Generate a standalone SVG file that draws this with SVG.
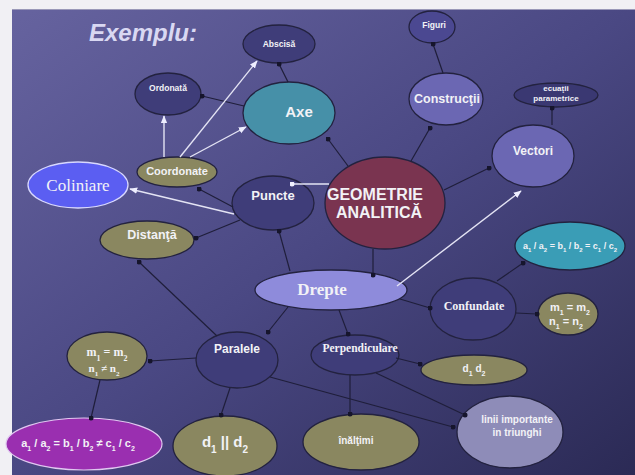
<svg xmlns="http://www.w3.org/2000/svg" width="635" height="475" viewBox="0 0 635 475">
<defs>
<linearGradient id="bg" x1="0" y1="0" x2="1" y2="1">
<stop offset="0" stop-color="#66639f"/>
<stop offset="0.5" stop-color="#4a4883"/>
<stop offset="1" stop-color="#2b2a55"/>
</linearGradient>
<marker id="dot" viewBox="0 0 6 6" refX="3" refY="3" markerWidth="5" markerHeight="5" markerUnits="userSpaceOnUse">
<circle cx="3" cy="3" r="3" fill="#16152c"/>
</marker>
<marker id="wdot" viewBox="0 0 6 6" refX="3" refY="3" markerWidth="5" markerHeight="5" markerUnits="userSpaceOnUse">
<circle cx="3" cy="3" r="3" fill="#f0f0ff"/>
</marker>
<marker id="warr" viewBox="0 0 10 10" refX="9" refY="5" markerWidth="8" markerHeight="8" orient="auto" markerUnits="userSpaceOnUse">
<path d="M0,1 L10,5 L0,9 z" fill="#eeeeff"/>
</marker>
</defs>
<style>
.dk{stroke:#1f1e3a;stroke-width:1.2;fill:none;marker-end:url(#dot)}
.wh{stroke:#e4e4f4;stroke-width:1.4;fill:none;marker-end:url(#warr)}
.n{stroke:#23223f;stroke-width:1.3}
.t{font-family:"Liberation Sans",Arial,sans-serif;font-weight:bold;fill:#f2f2f6;text-anchor:middle}
.s{font-family:"Liberation Serif","Times New Roman",serif;font-weight:bold;fill:#f2f2f6;text-anchor:middle}
.dark{fill:#3f3d79}
.olive{fill:#8a8760}
.lav{fill:#6b67b3}
</style>
<rect x="0" y="0" width="635" height="475" fill="#f1f0f4"/>
<rect x="12" y="9" width="623" height="466" fill="url(#bg)"/>
<line x1="12" y1="9.5" x2="635" y2="9.5" stroke="#9a98b8" stroke-width="1"/>
<text x="143" y="41" font-family="Liberation Sans,Arial,sans-serif" font-size="24" font-weight="bold" font-style="italic" fill="#d9d8f2" text-anchor="middle">Exemplu:</text>

<g id="abscisa"><ellipse class="n dark" cx="279" cy="44" rx="36" ry="19"/><text class="t" x="279" y="47" font-size="8.5">Abscisă</text></g>
<g id="ordonata"><ellipse class="n dark" cx="168" cy="94" rx="33" ry="21"/><text class="t" x="168" y="91" font-size="8.5">Ordonată</text></g>
<g id="axe"><ellipse class="n" fill="#4690a8" cx="289" cy="113" rx="46" ry="31"/><text class="t" x="299" y="117" font-size="15">Axe</text></g>
<g id="figuri"><ellipse class="n" fill="#4b4891" cx="432" cy="27" rx="23" ry="16"/><text class="t" x="434" y="28" font-size="8.5">Figuri</text></g>
<g id="constructii"><ellipse class="n lav" cx="446" cy="99" rx="37" ry="26"/><text class="t" x="447" y="103" font-size="12.5">Construcţii</text></g>
<g id="ecuatii"><ellipse class="n" fill="#3a3872" cx="556" cy="95" rx="42" ry="12"/><text class="t" x="556" y="91" font-size="8">ecuaţii</text><text class="t" x="556" y="101" font-size="8">parametrice</text></g>
<g id="coordonate"><ellipse class="n olive" cx="177" cy="172" rx="40" ry="15"/><text class="t" x="177" y="175" font-size="11">Coordonate</text></g>
<g id="coliniare"><ellipse fill="#5b5ef2" stroke="#d8d8ff" stroke-width="1.3" cx="78" cy="185" rx="50" ry="23"/><text x="78" y="191" font-family="Liberation Serif,'Times New Roman',serif" font-size="17" fill="#f2f2f6" text-anchor="middle">Coliniare</text></g>
<g id="puncte"><ellipse class="n dark" cx="273" cy="203" rx="41" ry="27"/><text class="t" x="273" y="200" font-size="13">Puncte</text></g>
<g id="geometrie"><ellipse class="n" fill="#7a3450" cx="385" cy="203" rx="60" ry="46"/><text class="t" x="375" y="200" font-size="16">GEOMETRIE</text><text class="t" x="379" y="218" font-size="16">ANALITICĂ</text></g>
<g id="vectori"><ellipse class="n lav" cx="533" cy="156" rx="41" ry="31"/><text class="t" x="533" y="155" font-size="12">Vectori</text></g>
<g id="distanta"><ellipse class="n olive" cx="147" cy="240" rx="47" ry="19"/><text class="t" x="152" y="239" font-size="12.5">Distanţă</text></g>
<g id="drepte"><ellipse class="n" fill="#8e8bdb" cx="331" cy="290" rx="76" ry="20"/><text class="s" x="322" y="295" font-size="17">Drepte</text></g>
<g id="prop-confundate"><ellipse class="n" fill="#3a9db6" cx="570" cy="246" rx="55" ry="24"/><text class="t" x="570" y="249" font-size="9">a<tspan font-size="6" baseline-shift="sub">1</tspan> / a<tspan font-size="6" baseline-shift="sub">2</tspan> = b<tspan font-size="6" baseline-shift="sub">1</tspan> / b<tspan font-size="6" baseline-shift="sub">2</tspan> = c<tspan font-size="6" baseline-shift="sub">1</tspan> / c<tspan font-size="6" baseline-shift="sub">2</tspan></text></g>
<g id="confundate"><ellipse class="n dark" cx="473" cy="309" rx="43" ry="31"/><text class="s" x="474" y="310" font-size="12">Confundate</text></g>
<g id="m-confundate"><ellipse class="n olive" cx="568" cy="314" rx="30" ry="21"/><text class="t" x="570" y="311" font-size="11">m<tspan font-size="7" baseline-shift="sub">1</tspan> = m<tspan font-size="7" baseline-shift="sub">2</tspan></text><text class="t" x="566" y="325" font-size="11">n<tspan font-size="7" baseline-shift="sub">1</tspan> = n<tspan font-size="7" baseline-shift="sub">2</tspan></text></g>
<g id="paralele"><ellipse class="n dark" cx="237" cy="360" rx="41" ry="28"/><text class="t" x="237" y="353" font-size="12">Paralele</text></g>
<g id="perpendiculare"><ellipse class="n dark" cx="355" cy="355" rx="44" ry="20"/><text class="s" x="360" y="352" font-size="11.5">Perpendiculare</text></g>
<g id="d-perp"><ellipse class="n olive" cx="474" cy="370" rx="53" ry="15"/><text class="t" x="474" y="372" font-size="10">d<tspan font-size="7" baseline-shift="sub">1</tspan>  d<tspan font-size="7" baseline-shift="sub">2</tspan></text></g>
<g id="m-paralele"><ellipse class="n olive" cx="107" cy="356" rx="40" ry="24"/><text class="s" x="107" y="356" font-size="12">m<tspan font-size="8" baseline-shift="sub">1</tspan> = m<tspan font-size="8" baseline-shift="sub">2</tspan></text><text class="s" x="104" y="372" font-size="11">n<tspan font-size="7" baseline-shift="sub">1</tspan> ≠ n<tspan font-size="7" baseline-shift="sub">2</tspan></text></g>
<g id="prop-paralele"><ellipse fill="#9a2fb0" stroke="#e0c8f0" stroke-width="1.2" cx="84" cy="444" rx="78" ry="26"/><text class="t" x="78" y="447" font-size="11">a<tspan font-size="7" baseline-shift="sub">1</tspan> / a<tspan font-size="7" baseline-shift="sub">2</tspan> = b<tspan font-size="7" baseline-shift="sub">1</tspan> / b<tspan font-size="7" baseline-shift="sub">2</tspan> ≠ c<tspan font-size="7" baseline-shift="sub">1</tspan> / c<tspan font-size="7" baseline-shift="sub">2</tspan></text></g>
<g id="d-paralele"><ellipse class="n olive" cx="225" cy="446" rx="52" ry="30"/><text class="t" x="225" y="447" font-size="15">d<tspan font-size="10" baseline-shift="sub">1</tspan> || d<tspan font-size="10" baseline-shift="sub">2</tspan></text></g>
<g id="inaltimi"><ellipse class="n olive" cx="361" cy="442" rx="58" ry="28"/><text class="t" x="356" y="444" font-size="10">înălţimi</text></g>
<g id="linii"><ellipse class="n" fill="#8e8cb8" cx="510" cy="432" rx="53" ry="36"/><text class="t" x="517" y="423" font-size="10">linii importante</text><text class="t" x="517" y="436" font-size="10">in triunghi</text></g>

<g id="connectors">
<line class="dk" x1="288" y1="82" x2="279" y2="64"/>
<line class="dk" x1="244" y1="106" x2="202" y2="96"/>
<line class="wh" x1="164" y1="157" x2="164" y2="116"/>
<line class="wh" x1="180" y1="157" x2="257" y2="61"/>
<line class="wh" x1="190" y1="157" x2="246" y2="127"/>
<line class="dk" x1="233" y1="207" x2="199" y2="189"/>
<line class="wh" x1="234" y1="214" x2="130" y2="189"/>
<line class="dk" x1="240" y1="220" x2="196" y2="238"/>
<line x1="329" y1="184" x2="292" y2="184" stroke="#e4e4f4" stroke-width="1.4" marker-end="url(#wdot)"/>
<line class="dk" x1="348" y1="166" x2="328" y2="139"/>
<line class="dk" x1="411" y1="161" x2="430" y2="128"/>
<line class="dk" x1="443" y1="73" x2="433" y2="44"/>
<line class="dk" x1="444" y1="190" x2="489" y2="168"/>
<line class="dk" x1="552" y1="125" x2="552" y2="108"/>
<line class="dk" x1="373" y1="249" x2="373" y2="275"/>
<line class="dk" x1="290" y1="271" x2="279" y2="231"/>
<line class="wh" x1="397" y1="286" x2="521" y2="191"/>
<line class="dk" x1="288" y1="307" x2="268" y2="332"/>
<line class="dk" x1="217" y1="336" x2="139" y2="262"/>
<line class="dk" x1="196" y1="358" x2="150" y2="361"/>
<line class="dk" x1="100" y1="380" x2="91" y2="418"/>
<line class="dk" x1="230" y1="388" x2="221" y2="415"/>
<line class="dk" x1="270" y1="377" x2="453" y2="427"/>
<line class="dk" x1="376" y1="373" x2="465" y2="415"/>
<line class="dk" x1="339" y1="310" x2="348" y2="334"/>
<line class="dk" x1="400" y1="299" x2="430" y2="308"/>
<line class="dk" x1="497" y1="281" x2="523" y2="263"/>
<line class="dk" x1="516" y1="313" x2="537" y2="314"/>
<line class="dk" x1="396" y1="358" x2="420" y2="364"/>
<line class="dk" x1="350" y1="375" x2="350" y2="414"/>
</g>
</svg>
